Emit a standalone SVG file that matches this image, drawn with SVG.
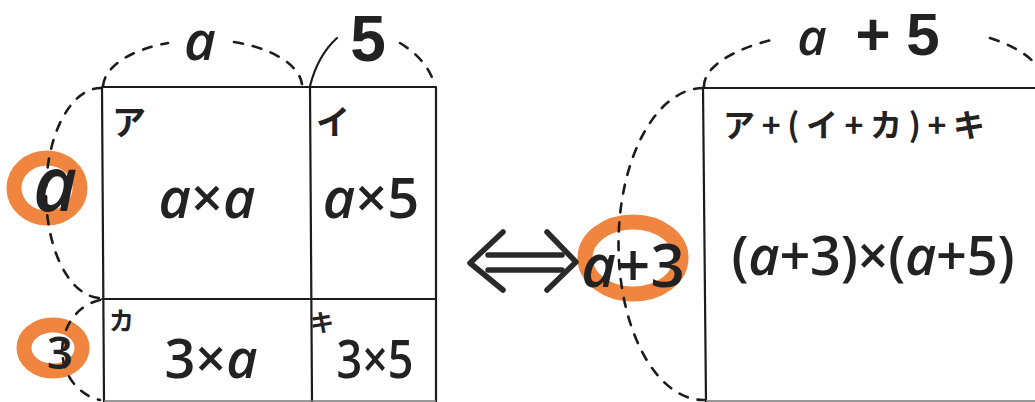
<svg xmlns="http://www.w3.org/2000/svg" width="1035" height="402" viewBox="0 0 1035 402">
<style>
.ln{stroke:#1c1c1c;stroke-width:2.2;fill:none;stroke-linecap:round}
.bt{stroke:#777;stroke-width:1.5;fill:none}
.dash{stroke:#1c1c1c;stroke-width:2.6;fill:none;stroke-dasharray:9 10;stroke-linecap:round}
.ring{stroke:#f08540;fill:none;stroke-width:15}
.m{font-family:"Open Sans","Liberation Sans",sans-serif;fill:#222;text-anchor:middle;font-weight:600}
.l{font-family:"Liberation Sans",Arial,sans-serif;fill:#222;text-anchor:middle;font-weight:700}
.i{font-style:italic}
.k{font-family:"Noto Sans CJK JP","Noto Sans",sans-serif;fill:#222;font-weight:700}
</style>
<rect width="1035" height="402" fill="#ffffff"/>
<g id="highlights">
<ellipse class="ring" cx="47" cy="188" rx="33" ry="30"/>
<ellipse class="ring" cx="53" cy="348" rx="29" ry="23"/>
<ellipse class="ring" cx="633" cy="258" rx="48" ry="36" stroke-width="14"/>
</g>
<g id="connectors">
<path class="dash" d="M103,86 A100 48 0 0 1 168,43"/>
<path class="dash" d="M234,42 A100 48 0 0 1 302,84"/>
<path class="ln" d="M310,86 Q318,55 337,38" stroke-width="2.4"/>
<path class="dash" d="M400,43 Q428,60 435,86"/>
<path class="dash" d="M102,88 A55 105 0 0 0 100,298"/>
<path class="dash" d="M100,300 A47 51 0 0 0 100,400"/>
<path class="dash" d="M704,87 A168 58 0 0 1 775,39"/>
<path class="dash" d="M990,38 A168 58 0 0 1 1040,88"/>
<path class="dash" d="M703,88 A85 156 0 0 0 704,400"/>
<g id="equiv" stroke="#2a2a2a" stroke-width="5.5" fill="none" stroke-linecap="round" stroke-linejoin="round">
<path d="M503,232 L470,263 L503,290"/>
<path d="M547,232 L576,262 L547,290"/>
<path d="M488,255 L562,255 M488,270 L562,270"/>
</g>
</g>
<g id="grid-left">
<path class="ln" d="M102,87 L436,87 M102,87 L104,402 M310,87 L312,402 M436,87 L436,402 M102,299 L436,299"/>
<path class="bt" d="M104,401 L436,401"/>
</g>
<g id="cell-a">
<text class="k" x="112" y="135" font-size="34">ア</text>
<text class="m" x="207" y="218" font-size="56"><tspan class="i">a</tspan>×<tspan class="i">a</tspan></text>
</g>
<g id="cell-i">
<text class="k" x="316" y="135" font-size="34">イ</text>
<text class="m" x="371" y="218" font-size="56"><tspan class="i">a</tspan>×5</text>
</g>
<g id="cell-ka">
<text class="k" x="109" y="330" font-size="25">カ</text>
<text class="m" x="211" y="378" font-size="54">3×<tspan class="i">a</tspan></text>
</g>
<g id="cell-ki">
<text class="k" x="310" y="331" font-size="24">キ</text>
<text class="m" x="375" y="378" font-size="52" textLength="77" lengthAdjust="spacingAndGlyphs">3×5</text>
</g>
<g id="label-top-a"><text class="m i" x="200" y="60" font-size="55">a</text></g>
<g id="label-top-5"><text class="l" x="368" y="61" font-size="64">5</text></g>
<g id="label-side-a"><text class="m i" x="55" y="211" font-size="76">a</text></g>
<g id="label-side-3"><text class="m" x="60" y="369" font-size="46">3</text></g>
<g id="label-a3"><text class="m" x="633" y="287" font-size="60"><tspan class="i">a</tspan>+3</text></g>
<g id="label-a5">
<text class="m i" x="812" y="55" font-size="51">a</text>
<text class="l" x="873" y="55" font-size="60">+</text>
<text class="l" x="923" y="55" font-size="60">5</text>
</g>
<g id="rect-right">
<path class="ln" d="M703,88 L1035,88 M703,88 L706,402"/>
<path class="bt" d="M706,401 L1035,401"/>
<text class="k" x="723" y="137" font-size="32" textLength="262" lengthAdjust="spacing">ア+(イ+カ)+キ</text>
<text class="m" x="873" y="275" font-size="54" textLength="283" lengthAdjust="spacing">(<tspan class="i">a</tspan>+3)×(<tspan class="i">a</tspan>+5)</text>
</g>
</svg>
